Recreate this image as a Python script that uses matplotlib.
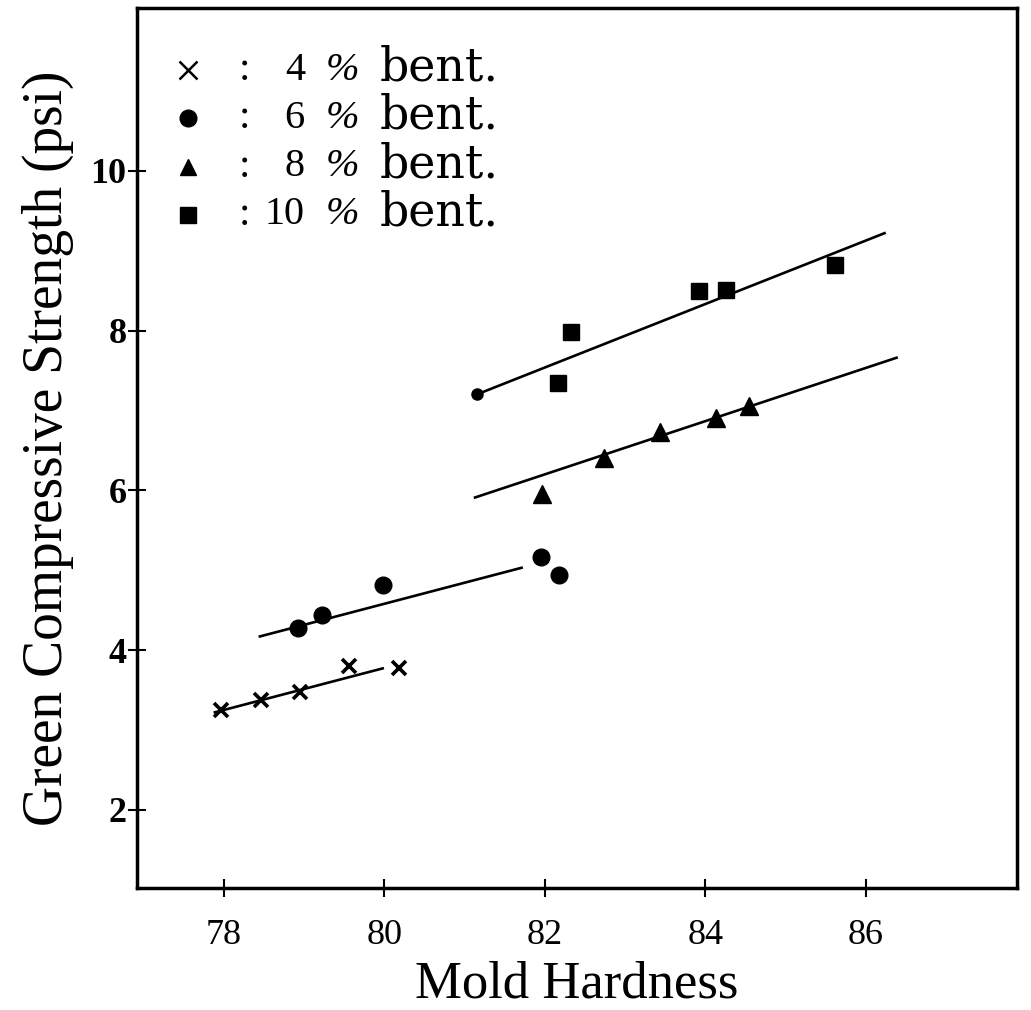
import matplotlib
matplotlib.use("Agg")
import matplotlib.pyplot as plt

plt.rcParams['font.family'] = ['Liberation Serif', 'DejaVu Serif']

# ---- data ----
x4 = [77.96, 78.47, 78.95, 79.56, 80.18]
y4 = [3.25, 3.37, 3.48, 3.80, 3.77]
fit4_x = [77.89, 79.98]
fit4_y = [3.22, 3.77]

x6 = [78.93, 79.23, 79.98, 81.95, 82.18]
y6 = [4.27, 4.44, 4.81, 5.17, 4.94]
fit6_x = [78.45, 81.71]
fit6_y = [4.17, 5.03]

x8 = [81.97, 82.74, 83.43, 84.13, 84.54]
y8 = [5.95, 6.41, 6.73, 6.91, 7.06]
fit8_x = [81.13, 86.38]
fit8_y = [5.91, 7.66]

x10 = [82.16, 82.32, 83.92, 84.26, 85.61]
y10 = [7.35, 7.98, 8.49, 8.51, 8.82]
fit10_x = [81.15, 86.23]
fit10_y = [7.20, 9.22]

legend_labels = ["4", "6", "8", "10"]
xticks = [78, 80, 82, 84, 86]
yticks = [2, 4, 6, 8, 10]

fig = plt.figure(figsize=(10.31, 10.10), dpi=100)
ax = fig.add_axes([0.1329, 0.1208, 0.8535, 0.8713])

lw = 1.9
ax.plot(fit4_x, fit4_y, color='black', lw=lw)
ax.plot(fit6_x, fit6_y, color='black', lw=lw)
ax.plot(fit8_x, fit8_y, color='black', lw=lw)
ax.plot(fit10_x, fit10_y, color='black', lw=lw)
ax.plot(fit10_x[:1], fit10_y[:1], 'o', color='black', ms=8)

ax.plot(x4, y4, 'x', color='black', ms=10, mew=2.6, linestyle='none')
ax.plot(x6, y6, 'o', color='black', ms=12, linestyle='none')
ax.plot(x8, y8, '^', color='black', ms=13, linestyle='none')
ax.plot(x10, y10, 's', color='black', ms=12, linestyle='none')

ax.set_xlim(76.92, 87.88)
ax.set_ylim(1.02, 12.04)
ax.set_xticks(xticks)
ax.set_yticks(yticks)
ax.set_xticklabels([str(t) for t in xticks], fontsize=26)
ax.set_yticklabels([str(t) for t in yticks], fontsize=26, fontweight='bold')
ax.tick_params(direction='inout', length=13, width=1.5)
ax.tick_params(axis='x', pad=16)
ax.tick_params(axis='y', pad=1)
for s in ax.spines.values():
    s.set_linewidth(2.5)

ax.set_xlabel("Mold Hardness", fontsize=38, labelpad=6)
ax.set_ylabel("Green Compressive Strength (psi)", fontsize=40, labelpad=12)

# ---- hand-drawn style legend ----
markers = [('x', dict(ms=13, mew=1.8)), ('o', dict(ms=12)), ('^', dict(ms=12)), ('s', dict(ms=11))]
row_y = [70, 118, 167, 215]
for (m, kw), lab, py in zip(markers, legend_labels, row_y):
    fy = 1 - py / 1010
    ax.plot([188 / 1031], [fy], m, color='black', transform=fig.transFigure,
            clip_on=False, **kw)
    fig.text(245 / 1031, fy, ":", fontsize=30, ha='center', va='center')
    fig.text(305 / 1031, fy, lab, fontsize=29, ha='right', va='center')
    fig.text(342 / 1031, fy, "%", fontsize=29, ha='center', va='center',
             style='italic')
    fig.text(380 / 1031, fy + 0.002, "bent.", fontsize=33, ha='left',
             va='center', family=['DejaVu Serif'])

fig.savefig("out.png", dpi=100)
